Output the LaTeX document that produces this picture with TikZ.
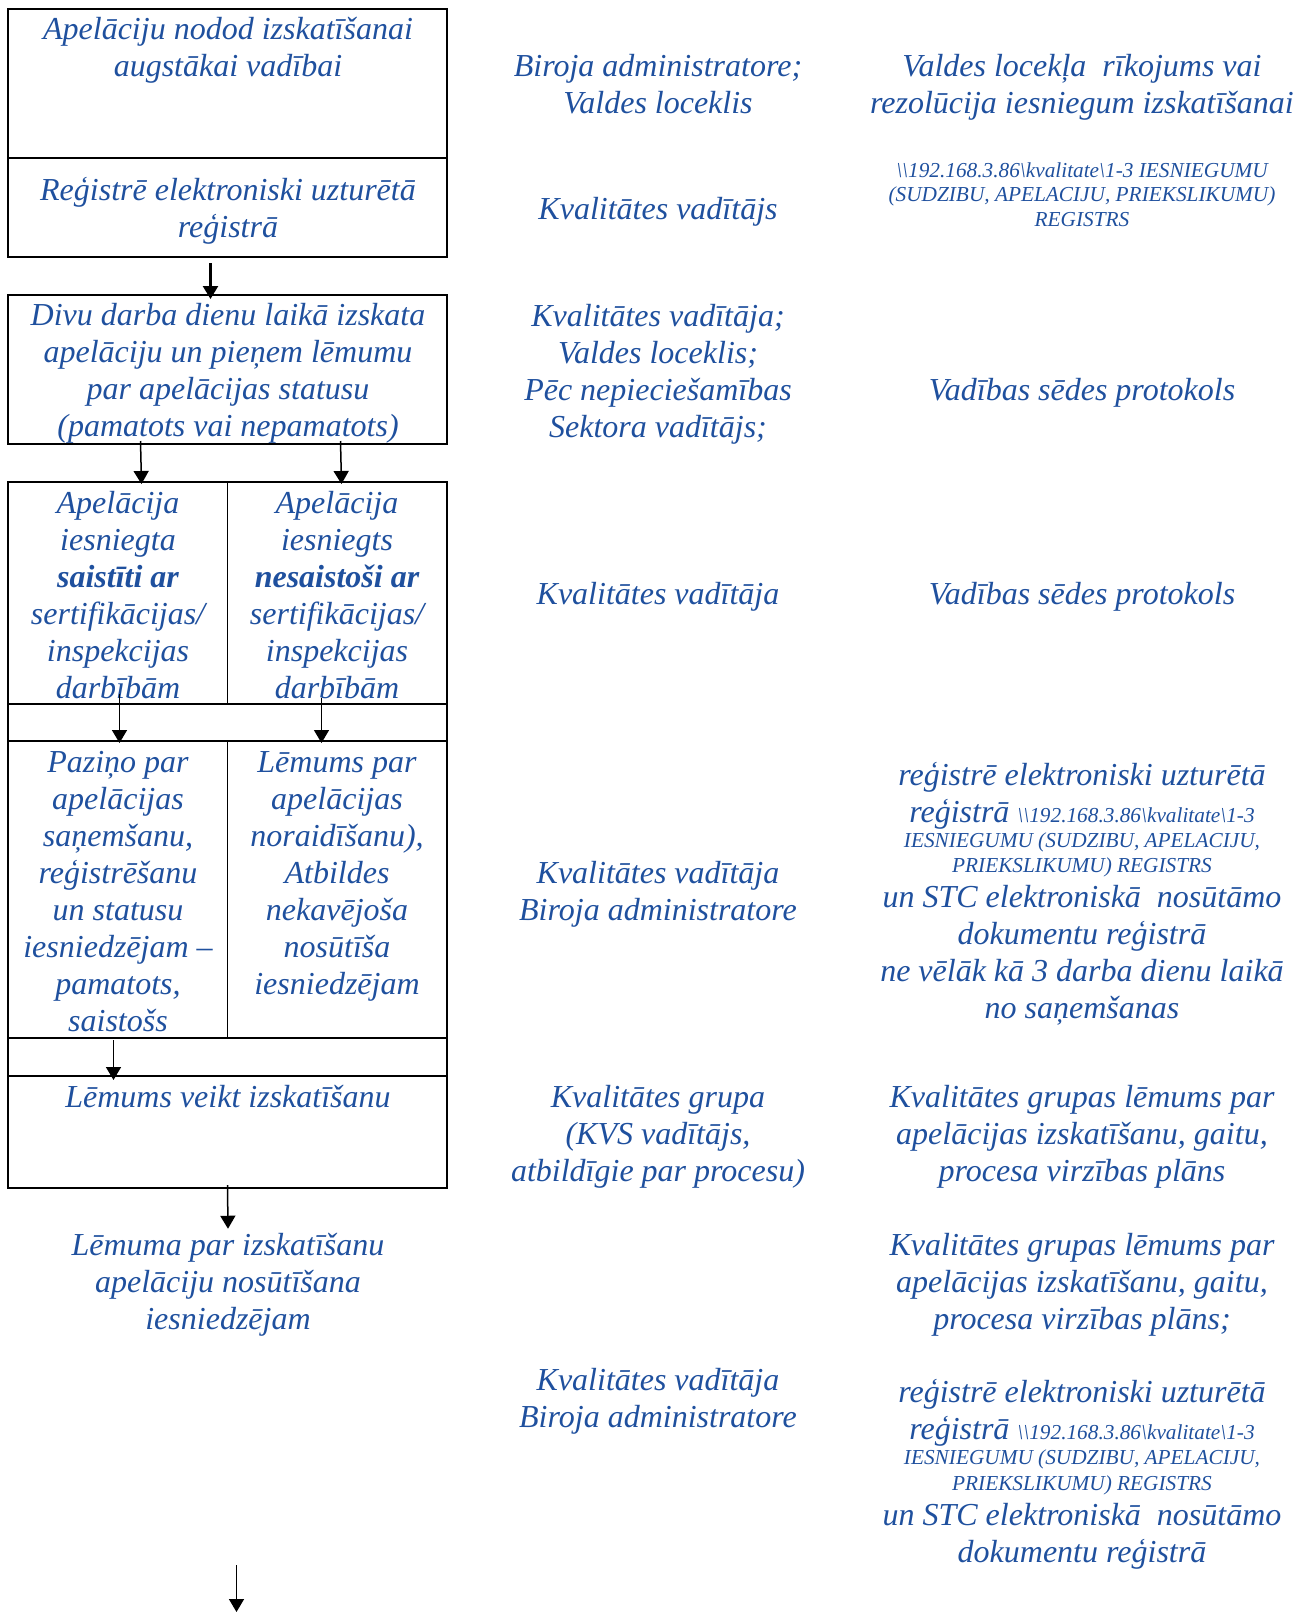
\documentclass[tikz,border=0pt]{standalone}
\usepackage{fontspec}
\setmainfont{Liberation Serif}
\usetikzlibrary{arrows.meta}
\usetikzlibrary{positioning}
\definecolor{ink}{RGB}{31,80,158}
\def\bigtxt{\fontsize{32}{37}\selectfont\itshape}
\def\smalltxt{\fontsize{21.3}{24.5}\selectfont\itshape}
\def\pth{\textbackslash\textbackslash192.168.3.86\textbackslash kvalitate\textbackslash1-3}

\begin{document}
\begin{tikzpicture}[x=1pt,y=-1pt,->,>={Triangle[length=13pt,width=15pt]},
			line width=1.5pt]
			\tikzstyle{every node}=[inner sep=0pt,outer sep=0pt]
			\tikzstyle{cell}=[draw,line width=2.5pt,anchor=north west,minimum width=439pt]
			\tikzstyle{txt}=[text=ink,align=center,anchor=base,font=\bigtxt]
			\tikzstyle{note}=[text=ink,align=center,anchor=base,font=\smalltxt]
			\useasboundingbox (0,0) rectangle (1310,1612);
			
			\node[cell,minimum height=149pt] (nodod) at (8,9) {};
			\node[cell,minimum height=99pt]  (regs)  at (8,158) {};
			\node[cell,minimum height=149pt] (divu)  at (8,295) {};
			\node[cell,minimum height=222pt] (stat)  at (8,482) {};
			\node[cell,minimum height=37pt]  (gapa)  at (8,704) {};
			\node[cell,minimum height=297pt] (pazi)  at (8,741) {};
			\node[cell,minimum height=38pt]  (gapb)  at (8,1038) {};
			\node[cell,minimum height=112pt] (veikt) at (8,1076) {};
			\draw[-] (stat.north) -- (stat.south);
			\draw[-] (pazi.north) -- (pazi.south);
			
			\node[txt] (t1) at (228,76)  {Apelāciju nodod izskatīšanai\\augstākai vadībai};
			\node[txt] (t2) at (228,237) {Reģistrē elektroniski uzturētā\\reģistrā};
			\node[txt] (t3) at (228,436) {Divu darba dienu laikā izskata\\apelāciju un pieņem lēmumu\\par apelācijas statusu\\(pamatots vai nepamatots)};
			\node[txt] (t4a) at (118,698) {Apelācija\\iesniegta\\\textbf{saistīti ar}\\sertifikācijas/\\inspekcijas\\darbībām};
			\node[txt] (t4b) at (337,698) {Apelācija\\iesniegts\\\textbf{nesaistoši ar}\\sertifikācijas/\\inspekcijas\\darbībām};
			\node[txt] (t5a) at (118,1031) {Paziņo par\\apelācijas\\saņemšanu,\\reģistrēšanu\\un statusu\\iesniedzējam --\\pamatots,\\saistošs};
			\node[txt] (t5b) at (337,994) {Lēmums par\\apelācijas\\noraidīšanu),\\Atbildes\\nekavējoša\\nosūtīša\\iesniedzējam};
			\node[txt] (t6) at (228,1107) {Lēmums veikt izskatīšanu};
			\node[txt] (t7) at (228,1329) {Lēmuma par izskatīšanu\\apelāciju nosūtīšana\\iesniedzējam};
			
			\node[txt] (m1) at (658,113)  {Biroja administratore;\\Valdes loceklis};
			\node[txt] (m2) at (658,219)  {Kvalitātes vadītājs};
			\node[txt] (m3) at (658,437)  {Kvalitātes vadītāja;\\Valdes loceklis;\\Pēc nepieciešamības\\Sektora vadītājs;};
			\node[txt] (m4) at (658,604)  {Kvalitātes vadītāja};
			\node[txt] (m5) at (658,920)  {Kvalitātes vadītāja\\Biroja administratore};
			\node[txt] (m6) at (658,1181) {Kvalitātes grupa\\(KVS vadītājs,\\atbildīgie par procesu)};
			\node[txt] (m7) at (658,1427) {Kvalitātes vadītāja\\Biroja administratore};
			
			\node[txt]  (r1) at (1082,113) {Valdes locekļa\ \ rīkojums vai\\rezolūcija iesniegum izskatīšanai};
			\node[note] (r2) at (1082,226) {\pth\ IESNIEGUMU\\(SUDZIBU, APELACIJU, PRIEKSLIKUMU)\\REGISTRS};
			\node[txt]  (r3) at (1082,400) {Vadības sēdes protokols};
			\node[txt]  (r4) at (1082,604) {Vadības sēdes protokols};
			\node[txt]  (r5) at (1082,1018) {reģistrē elektroniski uzturētā\\reģistrā {\smalltxt\pth}\\[-12pt]{\smalltxt IESNIEGUMU (SUDZIBU, APELACIJU,}\\[-12pt]{\smalltxt PRIEKSLIKUMU) REGISTRS}\\[-2pt]un STC elektroniskā\ \ nosūtāmo\\dokumentu reģistrā\\ne vēlāk kā 3 darba dienu laikā\\no saņemšanas};
			\node[txt]  (r6) at (1082,1181) {Kvalitātes grupas lēmums par\\apelācijas izskatīšanu, gaitu,\\procesa virzības plāns};
			\node[txt]  (r7) at (1082,1329) {Kvalitātes grupas lēmums par\\apelācijas izskatīšanu, gaitu,\\procesa virzības plāns;};
			\node[txt]  (r8) at (1082,1562) {reģistrē elektroniski uzturētā\\reģistrā {\smalltxt\pth}\\[-12pt]{\smalltxt IESNIEGUMU (SUDZIBU, APELACIJU,}\\[-11pt]{\smalltxt PRIEKSLIKUMU) REGISTRS}\\[-2pt]un STC elektroniskā\ \ nosūtāmo\\dokumentu reģistrā};
			
			\coordinate (tail) at (236.5,1565);
			\coordinate (head) at (236.5,1612);
			
			\path
			([shift={(-17,6)}]regs.south) edge [line width=2.5pt] ([shift={(-17,4)}]divu.north)
			([shift={(-87,-3)}]divu.south) edge ([shift={(-86,2)}]stat.north)
			([shift={(113,-3)}]divu.south) edge ([shift={(114,2)}]stat.north)
			([shift={(-108,-10)}]stat.south) edge ([shift={(-108,2)}]pazi.north)
			([shift={(94,-6)}]stat.south) edge ([shift={(94,2)}]pazi.north)
			([shift={(-114,2)}]pazi.south) edge ([shift={(-114,4)}]veikt.north)
			([yshift=3pt]veikt.south) edge ([yshift=4pt]t7.north)
			(tail) edge (head);
			\end{tikzpicture}
\end{document}
